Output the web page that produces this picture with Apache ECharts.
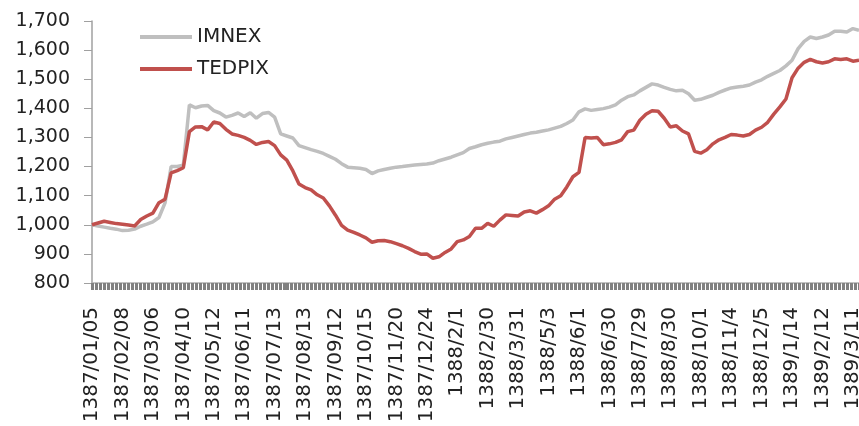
<!DOCTYPE html>
<html>
<head>
<meta charset="utf-8">
<script src="https://cdn.jsdelivr.net/npm/echarts@6/dist/echarts.min.js"></script>
<style>
html, body { margin: 0; padding: 0; background: #fff; }
#app { width: 859px; height: 426px; }
</style>
</head>
<body>
<div id="app"></div>
<script>
// axis labels, one every 5 points
var tickLabels = ['1387/01/05', '1387/02/08', '1387/03/06', '1387/04/10', '1387/05/12', '1387/06/11',
    '1387/07/13', '1387/08/13', '1387/09/12', '1387/10/15', '1387/11/20', '1387/12/24',
    '1388/2/1', '1388/2/30', '1388/3/31', '1388/5/3', '1388/6/1', '1388/6/30', '1388/7/29',
    '1388/8/30', '1388/10/1', '1388/11/4', '1388/12/5', '1389/1/14', '1389/2/12', '1389/3/11'];

var imnex = [1000, 996, 992, 988, 985, 980, 981, 985, 995, 1002,
    1010, 1025, 1075, 1200, 1200, 1205, 1412, 1402, 1408, 1410,
    1392, 1384, 1370, 1376, 1384, 1372, 1385, 1366, 1382, 1386,
    1370, 1312, 1305, 1298, 1272, 1265, 1258, 1252, 1245, 1235,
    1225, 1210, 1198, 1196, 1194, 1190, 1176, 1185, 1190, 1194,
    1198, 1200, 1203, 1205, 1207, 1209, 1212, 1220, 1226, 1232,
    1240, 1248, 1262, 1268, 1275, 1280, 1284, 1287, 1295, 1300,
    1305, 1310, 1315, 1318, 1322, 1326, 1332, 1338, 1348, 1360,
    1388, 1398, 1393, 1396, 1399, 1404, 1412, 1428, 1440, 1446,
    1460, 1472, 1484, 1480, 1472, 1465, 1460, 1462, 1450, 1428,
    1431, 1438, 1445, 1455, 1463, 1470, 1473, 1476, 1480, 1490,
    1498, 1510, 1520, 1530, 1546, 1565, 1605, 1630, 1645, 1640,
    1645, 1652, 1665, 1665, 1662, 1674, 1668];

var tedpix = [1000, 1006, 1012, 1008, 1004, 1002, 999, 996, 1018, 1030,
    1040, 1076, 1088, 1178, 1186, 1196, 1320, 1336, 1337, 1326,
    1353, 1348, 1328, 1312, 1307, 1300, 1290, 1276, 1283, 1286,
    1272, 1240, 1222, 1185, 1140, 1128, 1120, 1103, 1092, 1065,
    1033, 998, 982, 974, 965, 955, 940, 945, 946, 942,
    935, 928, 919, 908, 899, 900, 885, 890, 905, 917,
    942, 948, 960, 988, 988, 1005, 995, 1016, 1034, 1032,
    1030, 1044, 1048, 1040, 1052, 1065, 1088, 1100, 1130, 1165,
    1180, 1300, 1298, 1300, 1275, 1278, 1283, 1292, 1320, 1325,
    1359, 1380, 1392, 1390, 1366, 1336, 1340, 1322, 1312, 1252,
    1246, 1258, 1278, 1292, 1300, 1310, 1308, 1305, 1310, 1325,
    1335, 1352, 1380, 1405, 1432, 1505, 1538, 1558, 1568, 1560,
    1556, 1560, 1570, 1568, 1570, 1562, 1565];

var pointsPerLabel = 5;
var categories = [];
for (var i = 0; i < imnex.length; i++) {
    categories.push(i % pointsPerLabel === 0 ? tickLabels[i / pointsPerLabel] : '');
}
// dense tick marks under the axis
var tickSlots = new Array(192).fill('');

// labels sit bottom-aligned, so pad short dates with figure spaces
// to make their ends line up just under the axis
function padLabel(v) {
    if (!v) return '';
    var digits = v.replace(/[^0-9]/g, '').length;
    return new Array(Math.max(0, 8 - digits) + 1).join('\u2007') + v;
}

var font = 'DejaVu Sans';
var myChart = echarts.init(document.getElementById('app'));
var option = {
    animation: false,
    backgroundColor: '#ffffff',
    grid: {
        left: 92,
        right: 0,
        top: 21,
        bottom: 143,
        outerBoundsMode: 'none'
    },
    legend: {
        orient: 'vertical',
        left: 135,
        top: 22,
        itemWidth: 52,
        itemHeight: 4,
        itemGap: 12,
        icon: 'rect',
        data: ['IMNEX', 'TEDPIX'],
        textStyle: { fontFamily: font, fontSize: 20, color: '#222' }
    },
    xAxis: [{
        type: 'category',
        data: categories,
        boundaryGap: false,
        axisLine: { lineStyle: { color: '#b0b0b0', width: 1.5 } },
        axisTick: { show: false },
        axisLabel: {
            interval: pointsPerLabel - 1,
            rotate: 90,
            margin: 24,
            fontFamily: font,
            fontSize: 20,
            color: '#222',
            formatter: padLabel
        },
        splitLine: { show: false }
    }, {
        type: 'category',
        data: tickSlots,
        position: 'bottom',
        axisLine: { show: false },
        axisTick: { show: true, interval: 0, length: 7, lineStyle: { color: '#808080', width: 3 } },
        axisLabel: { show: false },
        splitLine: { show: false }
    }],
    yAxis: {
        type: 'value',
        min: 800,
        max: 1700,
        interval: 100,
        axisLine: { show: true, lineStyle: { color: '#a0a0a0', width: 1.5 } },
        axisTick: { show: true, length: 8, lineStyle: { color: '#a0a0a0' } },
        axisLabel: {
            margin: 22,
            fontFamily: font,
            fontSize: 19,
            color: '#222',
            formatter: function (v) { return v.toLocaleString('en-US'); }
        },
        splitLine: { show: false }
    },
    series: [{
        name: 'IMNEX',
        type: 'line',
        data: imnex,
        symbol: 'none',
        itemStyle: { color: '#bfbfbf' },
        lineStyle: { color: '#bfbfbf', width: 3.5 }
    }, {
        name: 'TEDPIX',
        type: 'line',
        data: tedpix,
        symbol: 'none',
        itemStyle: { color: '#c0504d' },
        lineStyle: { color: '#c0504d', width: 3.5 }
    }]
};
myChart.setOption(option);
</script>
</body>
</html>
